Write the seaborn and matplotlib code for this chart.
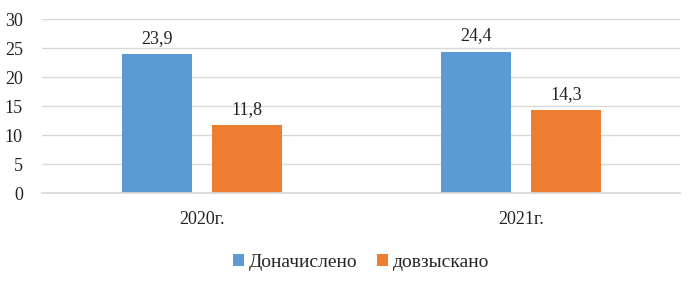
import matplotlib
matplotlib.use("Agg")
import matplotlib.pyplot as plt
import seaborn as sns
import pandas as pd

years = ["2020г.", "2021г."]
series = ["Доначислено", "довзыскано"]
charged = [23.9, 24.4]
collected = [11.8, 14.3]
colors = ["#5B9BD5", "#ED7D31"]

df = pd.DataFrame({
    "year": years * 2,
    "series": [series[0]] * 2 + [series[1]] * 2,
    "value": charged + collected,
})

sns.set_theme(style="white")
plt.rcParams["font.family"] = ["Liberation Serif", "DejaVu Serif"]

fig = plt.figure(figsize=(6.92, 2.84), dpi=100)
ax = fig.add_axes([0.061, 0.32, 0.922, 0.613])

sns.barplot(data=df, x="year", y="value", hue="series", palette=colors,
            width=0.565, gap=0.22, saturation=1, linewidth=0, ax=ax, legend=True)

for cont in ax.containers:
    ax.bar_label(cont, labels=[f"{v:.1f}".replace(".", ",") for v in cont.datavalues],
                 padding=5, fontsize=13, color="#222222")

ax.set_ylim(0, 30)
ax.set_yticks(range(0, 31, 5))
ax.yaxis.grid(True, color="#d9d9d9", linewidth=1)
ax.set_axisbelow(True)
for s in ["top", "right", "left"]:
    ax.spines[s].set_visible(False)
ax.spines["bottom"].set_color("#d9d9d9")
ax.set_xlabel("")
ax.set_ylabel("")
ax.tick_params(axis="both", length=0, labelsize=13, colors="#222222")
ax.tick_params(axis="y", pad=14)
ax.tick_params(axis="x", pad=13)

ax.legend(loc="upper center", bbox_to_anchor=(0.5, -0.25), ncol=2, frameon=False,
          fontsize=14, handlelength=0.55, handleheight=0.55, handletextpad=0.25,
          columnspacing=1.0)

fig.savefig("out.png", dpi=100)
